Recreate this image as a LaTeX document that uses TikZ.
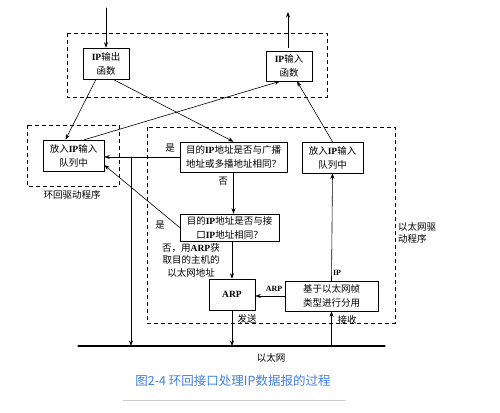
\documentclass[tikz,border=0pt]{standalone}
\usepackage{fontspec}
\usetikzlibrary{arrows.meta}
\setmainfont{Noto Sans CJK SC}
\newfontfamily\latfont{Liberation Serif}
\newcommand{\en}[1]{{\latfont\bfseries #1}}
\definecolor{capblue}{RGB}{64,128,224}
\begin{document}
\begin{tikzpicture}[line cap=round,line join=round,x=1pt,y=-1pt,>={Stealth[length=5.5pt,width=4pt]},
	fbox/.style={draw,line width=0.6pt,align=center,inner sep=0pt,font=\fontsize{9.5}{14}\selectfont},
	grp/.style={draw,line width=0.6pt,line cap=butt,dash pattern=on 4pt off 3pt},
	lbl/.style={font=\fontsize{9.5}{13}\selectfont,inner sep=1pt},
	conn/.style={line width=0.6pt}]
	\useasboundingbox (0,0) rectangle (500,412);
	% dashed groups
	\draw[grp] (67,33) rectangle (327,97);
	\draw[grp] (27,125) rectangle (119,186);
	\draw[grp] (147,127) rectangle (395,323);
	% boxes
	\node[fbox,minimum width=46pt,minimum height=31pt] (outfn) at (106,63.5) {\en{IP}输出\\函数};
	\node[fbox,minimum width=46pt,minimum height=30pt] (infn) at (289,66) {\en{IP}输入\\函数};
	\node[fbox,minimum width=61pt,minimum height=31pt] (loopq) at (73.5,155.5) {放入\en{IP}输入\\队列中};
	\node[fbox,minimum width=107pt,minimum height=30pt] (bcast) at (233.5,157) {目的\en{IP}地址是否与广播\\地址或多播地址相同？};
	\node[fbox,minimum width=99pt,minimum height=27pt] (ifcmp) at (229.5,227.5) {目的\en{IP}地址是否与接\\口\en{IP}地址相同？};
	\node[fbox,minimum width=61pt,minimum height=31pt] (ethq) at (332.5,157.5) {放入\en{IP}输入\\队列中};
	\node[fbox,minimum width=46pt,minimum height=31pt] (arp) at (232,294.5) {\en{ARP}};
	\node[fbox,minimum width=93pt,minimum height=30pt] (demux) at (331.5,296) {基于以太网帧\\类型进行分用};
	% ethernet
	\coordinate (ethL) at (78,346);
	\coordinate (ethR) at (385,346);
	\coordinate (tap) at (131,346);
	\coordinate (inTop) at (106,8);
	\coordinate (outTop) at (288,12);
	\draw[line width=1.3pt] (ethL) -- (ethR);
	% connectors
	\draw[conn,->] (inTop) -- (outfn.north);
	\draw[conn,->] (outfn.north -| outTop) -- (outTop);
	\draw[conn,->] ([xshift=-10pt]outfn.south) -- ([xshift=-8pt]loopq.north);
	\draw[conn,->] ([xshift=7pt]outfn.south) -- (bcast.north);
	\draw[conn,->] ([xshift=11pt]loopq.north) -- ([xshift=-9pt]infn.south);
	\draw[conn,->] (ethq.north) -- ([xshift=8pt]infn.south);
	\draw[conn,->] (bcast.west) -- (bcast.west -| loopq.east);
	\draw[conn,->] (tap |- bcast.west) -- (tap);
	\draw[conn,->] (ifcmp.west) -- ([yshift=-9.5pt]loopq.east);
	\draw[conn,->] (bcast.south) -- (bcast.south |- ifcmp.north);
	\draw[conn,->] (arp.north |- ifcmp.south) -- (arp.north);
	\draw[conn,->] (arp.south) -- (arp.south |- ethL);
	\draw[conn,->] (demux.south |- ethL) -- (demux.south);
	\draw[conn,->] (demux.north) -- (ethq.south);
	\draw[conn,->] (demux.west) -- (demux.west -| arp.east);
	% labels
	\node[lbl] (yes1) at (170,148) {是};
	\node[lbl] (yes2) at (160,225) {是};
	\node[lbl] (no1) at (223,181) {否};
	\node[lbl,align=center,font=\fontsize{9.5}{12.5}\selectfont] (noarp) at (191,260) {否，用\en{ARP}获\\取目的主机的\\以太网地址};
	\node[lbl] (loopdrv) at (72,195) {环回驱动程序};
	\node[lbl,anchor=west,align=left,font=\fontsize{9.5}{12.5}\selectfont] (ethdrv) at (397,233) {以太网驱\\动程序};
	\node[lbl,font=\fontsize{8}{9}\selectfont] (iplbl) at (337,273) {\en{IP}};
	\node[lbl,font=\fontsize{8}{9}\selectfont] (arplbl) at (274,289) {\en{ARP}};
	\node[lbl] (send) at (247,319) {发送};
	\node[lbl] (recv) at (347,320) {接收};
	\node[lbl] (ethnet) at (271,358) {以太网};
	\node[font=\fontsize{12.5}{14}\selectfont,text=capblue] (caption) at (233,381) {图2-4 环回接口处理IP数据报的过程};
	\draw[black!20,line width=0.8pt] (123,400) -- (345,400);
\end{tikzpicture}
\end{document}
